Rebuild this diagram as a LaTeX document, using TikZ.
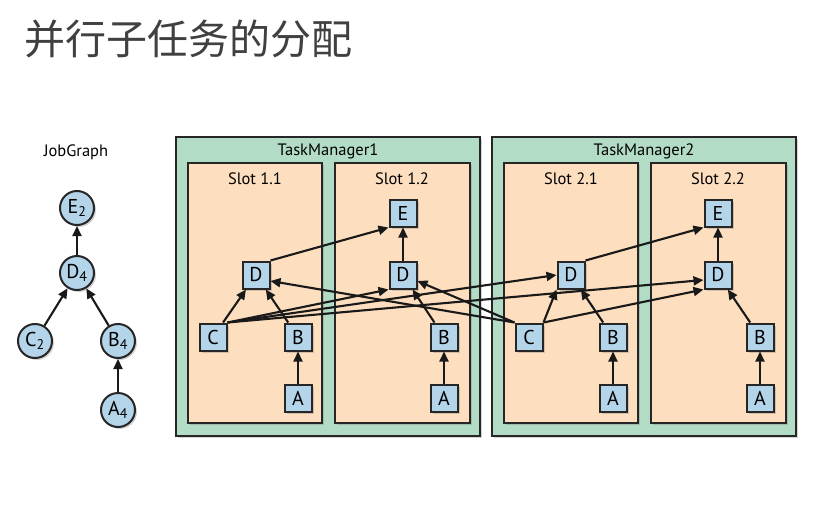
\documentclass[tikz,border=0pt]{standalone}
\usepackage{fontspec}
\setmainfont{PT Sans}
\newfontfamily\cjk{Noto Sans CJK SC}
\usepackage{xcolor}
\usepackage{tikz}
\usetikzlibrary{arrows.meta, shadows}

\definecolor{tmgreen}{RGB}{178,220,197}
\definecolor{slotpeach}{RGB}{253,222,190}
\definecolor{taskblue}{RGB}{180,212,234}
\definecolor{titlegray}{RGB}{64,64,64}

\begin{document}
\begin{tikzpicture}[
  x=1pt, y=-1pt,
  shade/.style={drop shadow={shadow xshift=2pt, shadow yshift=-2pt, opacity=.35}},
  tm/.style={draw=black!85, line width=2pt, fill=tmgreen, shade},
  slot/.style={draw=black!85, line width=2pt, fill=slotpeach, shade},
  task/.style={draw=black!85, line width=2pt, fill=taskblue, minimum size=27pt,
               inner sep=0pt, font=\fontsize{20}{20}\selectfont, shade},
  op/.style={circle, draw=black!85, line width=2pt, fill=taskblue, minimum size=34pt,
             inner sep=0pt, font=\fontsize{20}{20}\selectfont, shade},
  lbl/.style={font=\fontsize{16.5}{16.5}\selectfont},
  arr/.style={-{Triangle[length=10pt, width=9pt]}, line width=2.1pt, black!90}
]
\useasboundingbox (0,0) rectangle (832,524);
\node[anchor=west, text=titlegray, font=\cjk\fontsize{41}{41}\selectfont] (title) at (21,39) {并行子任务的分配};

% job graph
\node[lbl] (jg) at (76,152) {JobGraph};
\node[op] (E) at (77,208) {E\textsubscript{2}};
\node[op] (D) at (77,273) {D\textsubscript{4}};
\node[op] (C) at (35,341) {C\textsubscript{2}};
\node[op] (B) at (118,341) {B\textsubscript{4}};
\node[op] (A) at (118,410) {A\textsubscript{4}};
\draw[arr] (A) -- (B);
\draw[arr] (B) -- (D);
\draw[arr] (C) -- (D);
\draw[arr] (D) -- (E);

% task managers and slots
\draw[tm] (176,137) rectangle (480,436);
\draw[tm] (492,137) rectangle (796,436);
\node[lbl] (tm1) at (328,151) {TaskManager1};
\node[lbl] (tm2) at (644,151) {TaskManager2};
\draw[slot] (188,163) rectangle (322,423);
\draw[slot] (335,163) rectangle (470,423);
\draw[slot] (504,163) rectangle (638,423);
\draw[slot] (651,163) rectangle (786,423);
\node[lbl] (s11) at (255,179) {Slot 1.1};
\node[lbl] (s12) at (402,179) {Slot 1.2};
\node[lbl] (s21) at (571,179) {Slot 2.1};
\node[lbl] (s22) at (718,179) {Slot 2.2};

% subtasks
\node[task] (D11) at (256,275) {D};
\node[task] (C11) at (213,337) {C};
\node[task] (B11) at (298,337) {B};
\node[task] (A11) at (298,398) {A};
\node[task] (E12) at (403,213) {E};
\node[task] (D12) at (403,275) {D};
\node[task] (B12) at (444,337) {B};
\node[task] (A12) at (444,398) {A};
\node[task] (D21) at (571,275) {D};
\node[task] (C21) at (529,337) {C};
\node[task] (B21) at (613,337) {B};
\node[task] (A21) at (613,398) {A};
\node[task] (E22) at (718,213) {E};
\node[task] (D22) at (718,275) {D};
\node[task] (B22) at (760,337) {B};
\node[task] (A22) at (760,398) {A};

\draw[arr] (A11) -- (B11);
\draw[arr] (B11) -- (D11);
\draw[arr] (C11) -- (D11);
\draw[arr] (A12) -- (B12);
\draw[arr] (B12) -- (D12);
\draw[arr] (D12) -- (E12);
\draw[arr] (A21) -- (B21);
\draw[arr] (B21) -- (D21);
\draw[arr] (C21.north east) -- (D21.south west);
\draw[arr] (A22) -- (B22);
\draw[arr] (B22) -- (D22);
\draw[arr] (D22) -- (E22);
\draw[arr] (D11.north east) -- (E12.south west);
\draw[arr] (D21.north east) -- (E22.south west);
\draw[arr] (C11.north east) -- (D12.south west);
\draw[arr] (C11.north east) -- (D21.west);
\draw[arr] (C11.north east) -- ([yshift=-5pt]D22.west);
\draw[arr] (C21.north east) -- (D22.south west);
\draw[arr] (C21.north west) -- ([yshift=-6pt]D11.east);
\draw[arr] (C21.north west) -- ([yshift=-6pt]D12.east);
\end{tikzpicture}
\end{document}
